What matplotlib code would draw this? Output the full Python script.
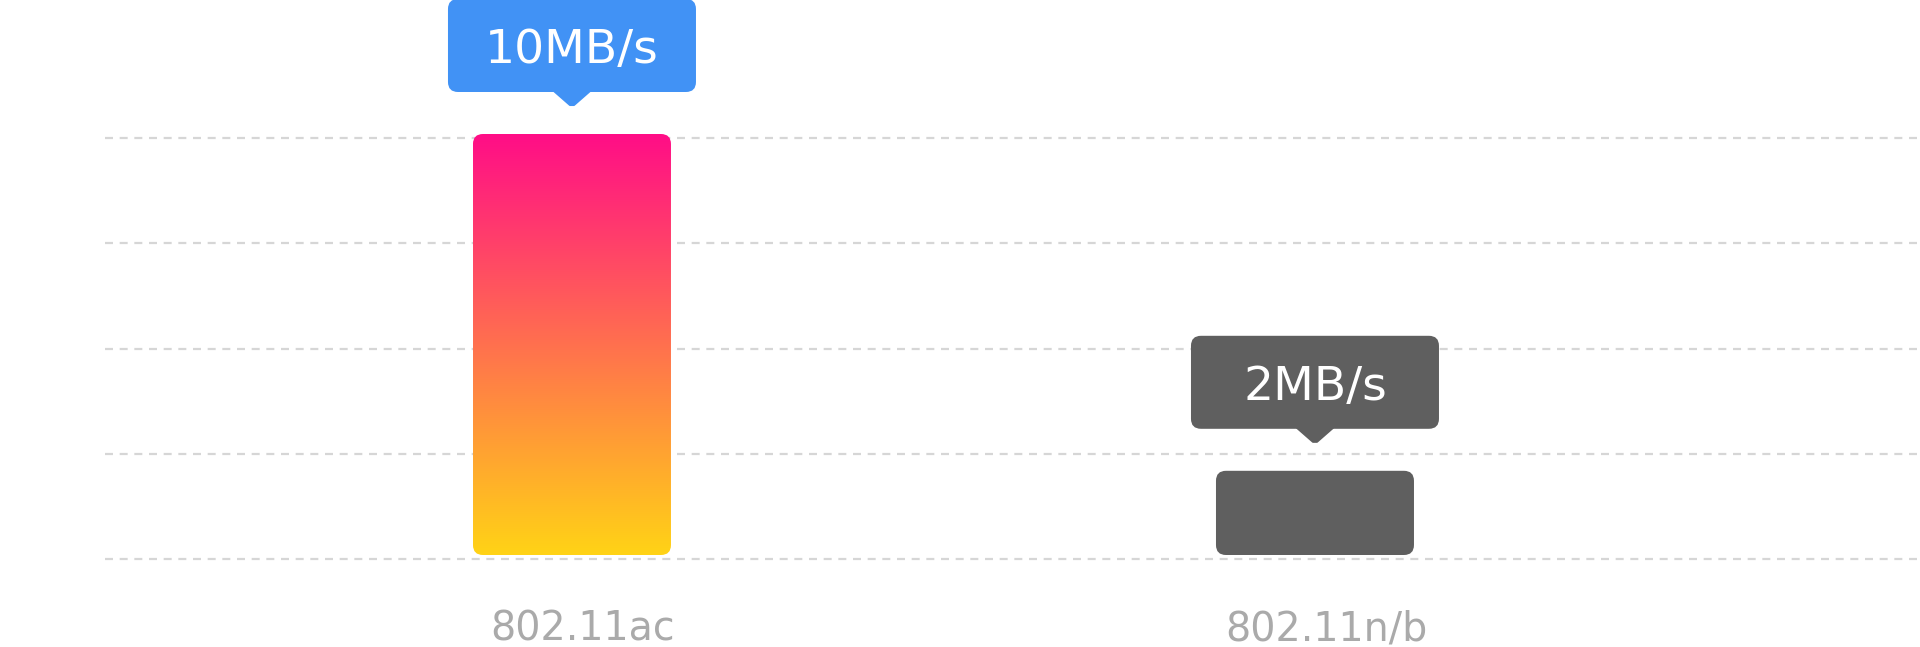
import numpy as np
import matplotlib
matplotlib.use('Agg')
import matplotlib.pyplot as plt
from matplotlib.patches import FancyBboxPatch, Polygon
from matplotlib import transforms

# data
categories = ['802.11ac', '802.11n/b']
speeds = [10, 2]
speed_labels = ['10MB/s', '2MB/s']
yticks = [0, 2.5, 5, 7.5, 10]

# colours
bar_colors = [None, '#5f5f5f']          # None -> gradient bar
box_colors = ['#4192f5', '#5f5f5f']
grad_top = np.array([255, 13, 135]) / 255.
grad_bot = np.array([255, 211, 22]) / 255.

W, H, DPI = 1920, 647, 100
fig = plt.figure(figsize=(W / DPI, H / DPI), dpi=DPI)
ax = fig.add_axes([105 / W, 80 / H, 1815 / W, 437 / H])
xlim = (-0.6285, 1.8143)
ylim = (-0.19, 10.19)

ax.set_yticks(yticks)
ax.set_xticks([])
ax.tick_params(left=False, labelleft=False)
for s in ax.spines.values():
    s.set_visible(False)
ax.grid(axis='y', color='#d6d6d6', lw=1.6, linestyle=(0, (3.6, 3.0)))
ax.set_axisbelow(True)

# pixels per data unit
px_x = 1815 / (xlim[1] - xlim[0])
px_y = 437 / (ylim[1] - ylim[0])
bar_w = 198 / px_x
radius = 10 / px_x
aspect = px_x / px_y

# bars sit a few pixels above the baseline gridline
shift = transforms.offset_copy(ax.transData, fig=fig, x=0, y=4, units='dots')

grad = np.linspace(0, 1, 256)[:, None, None]
grad = grad_top[None, None, :] * (1 - grad) + grad_bot[None, None, :] * grad

gap = 42        # px between bar top and callout box bottom
box_w, box_h = 248, 93
arrow_w, arrow_h = 36, 15

for i, (v, lab) in enumerate(zip(speeds, speed_labels)):
    patch = FancyBboxPatch((i - bar_w / 2, 0), bar_w, v,
                           boxstyle='round,pad=0,rounding_size=%f' % radius,
                           mutation_aspect=aspect, transform=shift,
                           ec='none', fc=bar_colors[i] if bar_colors[i] else 'none',
                           zorder=2)
    ax.add_patch(patch)
    if bar_colors[i] is None:
        im = ax.imshow(grad, extent=[i - bar_w / 2, i + bar_w / 2, 0, v],
                       aspect='auto', origin='upper', transform=shift,
                       interpolation='bilinear', zorder=2)
        im.set_clip_path(patch)

    # callout box in pixel units, anchored at the bar top
    t = transforms.Affine2D() + transforms.ScaledTranslation(i, v, shift)
    box = FancyBboxPatch((-box_w / 2, gap), box_w, box_h,
                         boxstyle='round,pad=0,rounding_size=10',
                         transform=t, fc=box_colors[i], ec='none',
                         clip_on=False, zorder=3)
    ax.add_patch(box)
    tri = Polygon([(-arrow_w / 2, gap + 1), (arrow_w / 2, gap + 1),
                   (2, gap - arrow_h + 2), (-2, gap - arrow_h + 2)],
                  closed=True, transform=t, joinstyle='round',
                  fc=box_colors[i], ec=box_colors[i], lw=1.5,
                  clip_on=False, zorder=3)
    ax.add_patch(tri)
    ax.text(0, gap + box_h / 2 - 18, lab, transform=t, ha='center',
            va='baseline', fontsize=34, color='white', zorder=4, clip_on=False)

    ax.annotate(categories[i], xy=(i, 0), xytext=(11, -81),
                textcoords='offset pixels', ha='center', va='baseline',
                fontsize=28.5, color='#aaaaaa')

ax.set_xlim(*xlim)
ax.set_ylim(*ylim)

plt.savefig('out.png', dpi=DPI)
